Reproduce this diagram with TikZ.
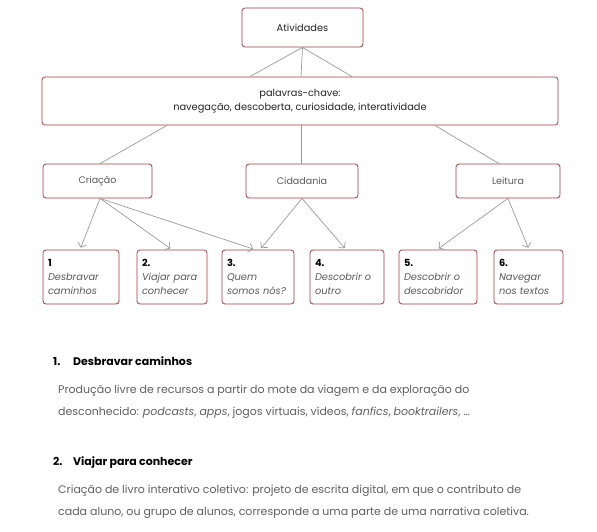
\documentclass[tikz,border=0pt]{standalone}
\usepackage{fontspec}
\setmainfont{Poppins}
\usetikzlibrary{arrows.meta,calc}
\definecolor{boxred}{HTML}{A23B40}
\definecolor{linegray}{HTML}{9A9A9A}
\definecolor{txtgray}{HTML}{5A5A5A}
\definecolor{bodygray}{HTML}{606060}
\tikzset{
  box/.style={draw=boxred, rounded corners=3pt, line width=0.8pt, fill=white, inner sep=0pt, align=center},
  topbox/.style={box, font=\fontsize{9.8}{13.5}\selectfont, text=black!85},
  catbox/.style={box, font=\fontsize{9.5}{14}\selectfont, text=txtgray, minimum height=34pt},
  actbox/.style={box, minimum height=54pt, align=left, font=\fontsize{9.8}{14}\selectfont, text=txtgray},
  conn/.style={draw=linegray, line width=0.7pt},
  arr/.style={conn, -{Straight Barb[length=4pt,width=9pt,line width=0.7pt]}, shorten >=2pt},
  head/.style={anchor=base west, inner sep=0pt, font=\fontsize{11}{14}\selectfont\bfseries, text=black},
  body/.style={anchor=base west, inner sep=0pt, font=\fontsize{11}{14}\selectfont, text=bodygray},
}
\newcommand{\actlbl}[2]{{\bfseries\color{black}#1}\\\itshape #2}
\begin{document}
\begin{tikzpicture}[x=1pt,y=-1pt]
\useasboundingbox (0,0) rectangle (597,531);
% top
\node[topbox, minimum width=121pt, minimum height=39pt] (act) at (302.5,27.5) {Atividades};
\node[topbox, minimum width=516pt, minimum height=48pt] (pal) at (300,101) {palavras-chave:\\navegação, descoberta, curiosidade, interatividade};
% categories
\node[catbox, minimum width=109pt] (cri) at (97.5,181) {Criação};
\node[catbox, minimum width=112pt] (cid) at (302,181) {Cidadania};
\node[catbox, minimum width=104pt] (lei) at (508,181) {Leitura};
% activities
\node[actbox, minimum width=76pt, text width=66pt] (b1) at (81,277) {\actlbl{1}{Desbravar\\caminhos}};
\node[actbox, minimum width=70pt, text width=60pt] (b2) at (172,277) {\actlbl{2.}{Viajar para\\conhecer}};
\node[actbox, minimum width=72pt, text width=62pt] (b3) at (258,277) {\actlbl{3.}{Quem\\somos nós?}};
\node[actbox, minimum width=74pt, text width=64pt] (b4) at (347,277) {\actlbl{4.}{Descobrir o\\outro}};
\node[actbox, minimum width=78pt, text width=68pt] (b5) at (438,277) {\actlbl{5.}{Descobrir o\\descobridor}};
\node[actbox, minimum width=69pt, text width=59pt] (b6) at (528.5,277) {\actlbl{6.}{Navegar\\nos textos}};
% connectors top
\draw[conn] (act.south) -- ([xshift=-50pt]pal.north);
\draw[conn] (act.south) -- ([xshift=1pt]pal.north);
\draw[conn] (act.south) -- ([xshift=52pt]pal.north);
\draw[conn] ([xshift=-133pt]pal.south) -- ([xshift=2.5pt]cri.north);
\draw[conn] ([xshift=1pt]pal.south) -- ([xshift=-1pt]cid.north);
\draw[conn] ([xshift=135pt]pal.south) -- ([xshift=-9pt]lei.north);
% arrows
\draw[arr] ([xshift=2.5pt]cri.south) -- ([xshift=-1pt]b1.north);
\draw[arr] ([xshift=2.5pt]cri.south) -- (b2.north);
\draw[arr] ([xshift=2.5pt]cri.south) -- ([xshift=-3pt]b3.north);
\draw[arr] (cid.south) -- ([xshift=2pt]b3.north);
\draw[arr] (cid.south) -- ([xshift=-1pt]b4.north);
\draw[arr] (lei.south) -- ([xshift=-1pt]b5.north);
\draw[arr] (lei.south) -- ([xshift=0.5pt]b6.north);
% text section
\node[head] (h1) at (53,365) {\makebox[20pt][l]{1.}Desbravar caminhos};
\node[body] (p1a) at (58,393) {Produção livre de recursos a partir do mote da viagem e da exploração do};
\node[body] (p1b) at (58,415) {desconhecido: \textit{podcasts}, \textit{apps}, jogos virtuais, vídeos, \textit{fanfics}, \textit{booktrailers}, \dots};
\node[head] (h2) at (53,465) {\makebox[20pt][l]{2.}Viajar para conhecer};
\node[body] (p2a) at (58,493) {Criação de livro interativo coletivo: projeto de escrita digital, em que o contributo de};
\node[body] (p2b) at (58,515) {cada aluno, ou grupo de alunos, corresponde a uma parte de uma narrativa coletiva.};
\end{tikzpicture}
\end{document}
